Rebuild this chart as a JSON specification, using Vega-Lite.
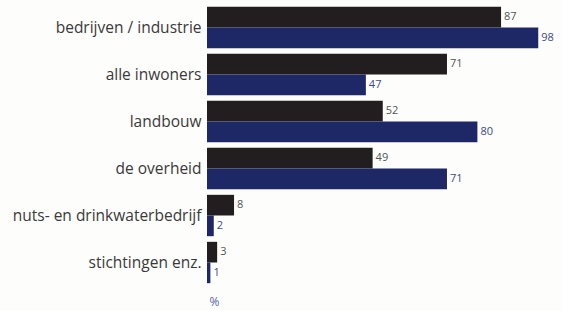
{
  "$schema": "https://vega.github.io/schema/vega-lite/v6.json",
  "width": 338,
  "height": 282,
  "autosize": {"type": "none"},
  "padding": {"left": 207, "top": 4, "right": 17, "bottom": 25},
  "background": "#fdfdfb",
  "config": {"view": {"stroke": null}, "font": "Open Sans"},
  "data": {
    "values": [
      {"sector": "bedrijven / industrie", "reeks": "A", "waarde": 87},
      {"sector": "bedrijven / industrie", "reeks": "B", "waarde": 98},
      {"sector": "alle inwoners", "reeks": "A", "waarde": 71},
      {"sector": "alle inwoners", "reeks": "B", "waarde": 47},
      {"sector": "landbouw", "reeks": "A", "waarde": 52},
      {"sector": "landbouw", "reeks": "B", "waarde": 80},
      {"sector": "de overheid", "reeks": "A", "waarde": 49},
      {"sector": "de overheid", "reeks": "B", "waarde": 71},
      {"sector": "nuts- en drinkwaterbedrijf", "reeks": "A", "waarde": 8},
      {"sector": "nuts- en drinkwaterbedrijf", "reeks": "B", "waarde": 2},
      {"sector": "stichtingen enz.", "reeks": "A", "waarde": 3},
      {"sector": "stichtingen enz.", "reeks": "B", "waarde": 1}
    ]
  },
  "encoding": {
    "y": {
      "field": "sector", "type": "nominal", "sort": null,
      "scale": {"paddingInner": 0.12, "paddingOuter": 0.06},
      "axis": {"title": null, "ticks": false, "domain": false, "labelPadding": 6, "labelFontSize": 15.5, "labelLimit": 215, "labelColor": "#3a3a3a", "labelFont": "Open Sans"}
    },
    "yOffset": {"field": "reeks", "type": "nominal", "sort": ["A", "B"]},
    "x": {
      "field": "waarde", "type": "quantitative",
      "scale": {"domain": [0, 100], "nice": false},
      "axis": {"title": "%", "labels": false, "ticks": false, "domain": false, "grid": false, "titleAnchor": "start", "titleAlign": "left", "titleX": 2, "titleY": 10, "titleColor": "#5a66a8", "titleFontWeight": "normal", "titleFontSize": 12}
    }
  },
  "layer": [
    {
      "mark": {"type": "bar"},
      "encoding": {
        "color": {"field": "reeks", "type": "nominal", "scale": {"domain": ["A", "B"], "range": ["#221d1f", "#1f2867"]}, "legend": null}
      }
    },
    {
      "mark": {"type": "text", "align": "left", "baseline": "middle", "dx": 3, "fontSize": 11},
      "encoding": {
        "text": {"field": "waarde", "type": "quantitative"},
        "color": {"field": "reeks", "type": "nominal", "scale": {"domain": ["A", "B"], "range": ["#555555", "#3d4a8c"]}, "legend": null}
      }
    }
  ],
  "resolve": {"scale": {"color": "independent"}}
}
